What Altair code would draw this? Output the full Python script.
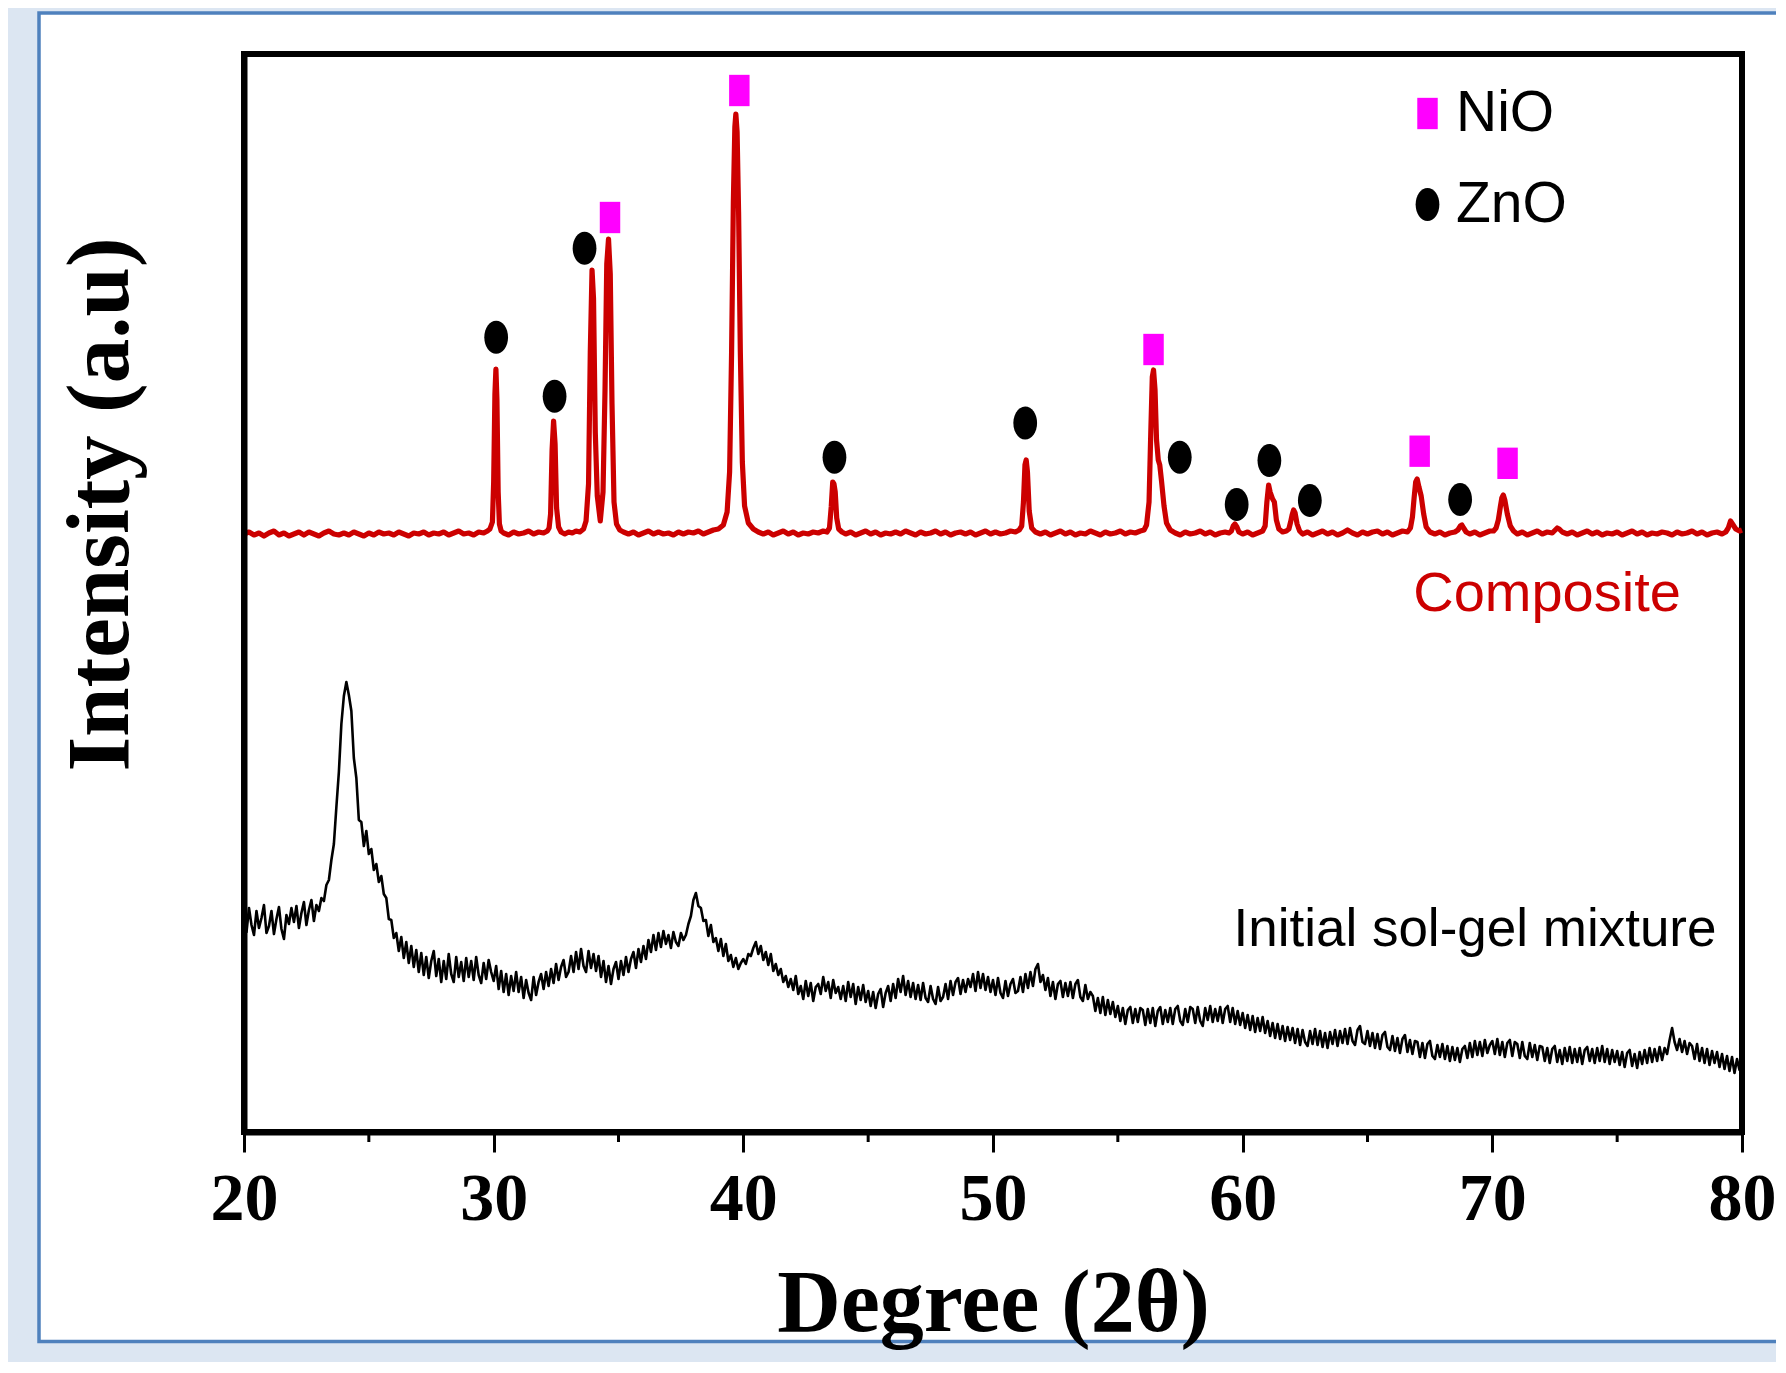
import altair as alt
import pandas as pd

# ---------------- data ----------------
# Composite (red) XRD pattern: (2theta, intensity a.u.)
composite = [
    (20.0, 598), (20.2, 600), (20.4, 597), (20.6, 599), (20.8, 596), (21.0, 599), (21.2, 601), (21.4, 597), (21.6, 599), (21.8, 596),
    (22.0, 598), (22.2, 600), (22.4, 597), (22.6, 600), (22.8, 598), (23.0, 596), (23.2, 599), (23.4, 601), (23.6, 598), (23.8, 597),
    (24.0, 599), (24.2, 597), (24.4, 600), (24.6, 598), (24.8, 596), (25.0, 599), (25.2, 597), (25.4, 600), (25.6, 598), (25.8, 599),
    (26.0, 597), (26.2, 600), (26.4, 598), (26.6, 596), (26.8, 599), (27.0, 598), (27.2, 600), (27.4, 597), (27.6, 599), (27.8, 598),
    (28.0, 600), (28.2, 597), (28.4, 599), (28.6, 601), (28.8, 598), (29.0, 599), (29.2, 597), (29.4, 600), (29.6, 599), (29.75, 601),
    (29.85, 603), (29.95, 610), (30.0, 650), (30.05, 738), (30.09, 763), (30.13, 733), (30.18, 640), (30.23, 608), (30.3, 601),
    (30.4, 599), (30.6, 597), (30.8, 600), (31.0, 598), (31.2, 599), (31.4, 601), (31.6, 598), (31.8, 600), (32.0, 599), (32.15, 601),
    (32.22, 604), (32.28, 618), (32.34, 682), (32.40, 711), (32.46, 688), (32.52, 624), (32.6, 605), (32.7, 600),
    (32.85, 598), (33.0, 600), (33.15, 599), (33.3, 601), (33.45, 600), (33.6, 603),
    (33.7, 611), (33.8, 648), (33.87, 780), (33.94, 862), (34.0, 833), (34.07, 700), (34.15, 636), (34.27, 611),
    (34.38, 640), (34.46, 742), (34.53, 868), (34.6, 893), (34.67, 858), (34.74, 728), (34.82, 630), (34.92, 608), (35.05, 602),
    (35.2, 600), (35.4, 598), (35.6, 600), (35.8, 597), (36.0, 599), (36.2, 601), (36.4, 598), (36.6, 600), (36.8, 598), (37.0, 599),
    (37.2, 597), (37.4, 600), (37.6, 598), (37.8, 600), (38.0, 599), (38.2, 601), (38.4, 598), (38.6, 600), (38.8, 602), (39.0, 603),
    (39.2, 607), (39.35, 620), (39.45, 660), (39.53, 780), (39.6, 930), (39.66, 1005), (39.70, 1018), (39.75, 1000), (39.81, 920),
    (39.88, 780), (39.96, 670), (40.05, 626), (40.2, 609), (40.4, 603),
    (40.6, 600), (40.8, 598), (41.0, 600), (41.2, 597), (41.4, 599), (41.6, 601), (41.8, 598), (42.0, 600), (42.2, 597), (42.4, 599),
    (42.6, 598), (42.8, 600), (43.0, 599), (43.2, 601), (43.35, 600),
    (43.45, 604), (43.52, 625), (43.58, 650), (43.63, 648), (43.68, 640), (43.74, 614), (43.82, 603), (43.95, 600),
    (44.1, 598), (44.3, 600), (44.5, 597), (44.7, 599), (44.9, 601), (45.1, 598), (45.3, 600), (45.5, 597), (45.7, 599), (45.9, 598),
    (46.1, 600), (46.3, 598), (46.5, 601), (46.7, 599), (46.9, 597), (47.1, 600), (47.3, 598), (47.5, 599), (47.7, 601), (47.9, 598),
    (48.1, 600), (48.3, 597), (48.5, 599), (48.7, 600), (48.9, 598), (49.1, 600), (49.3, 597), (49.5, 599), (49.7, 601), (49.9, 598),
    (50.1, 600), (50.3, 598), (50.5, 599), (50.7, 601), (50.9, 600), (51.05, 602),
    (51.15, 606), (51.22, 630), (51.28, 667), (51.33, 672), (51.38, 660), (51.45, 621), (51.55, 604), (51.7, 600),
    (51.9, 598), (52.1, 600), (52.3, 597), (52.5, 599), (52.7, 601), (52.9, 598), (53.1, 600), (53.3, 597), (53.5, 599), (53.7, 598),
    (53.9, 601), (54.1, 599), (54.3, 597), (54.5, 600), (54.7, 598), (54.9, 599), (55.1, 601), (55.3, 598), (55.5, 600), (55.7, 599),
    (55.9, 601), (56.05, 602),
    (56.15, 607), (56.25, 630), (56.32, 700), (56.38, 755), (56.43, 762), (56.49, 742), (56.55, 692), (56.62, 672), (56.68, 667),
    (56.75, 651), (56.85, 626), (56.95, 609), (57.1, 602),
    (57.3, 599), (57.5, 597), (57.7, 600), (57.9, 598), (58.1, 599), (58.3, 601), (58.5, 598), (58.7, 600), (58.9, 597), (59.1, 599),
    (59.3, 600), (59.45, 599),
    (59.55, 601), (59.62, 606), (59.69, 608), (59.77, 605), (59.85, 600),
    (60.0, 598), (60.2, 600), (60.4, 597), (60.6, 599), (60.8, 601),
    (60.9, 606), (60.97, 630), (61.04, 647), (61.1, 640), (61.2, 633), (61.27, 630), (61.35, 612), (61.45, 603), (61.6, 600), (61.75, 601),
    (61.85, 603), (61.92, 610), (61.98, 617), (62.04, 622), (62.1, 619), (62.18, 608), (62.28, 601),
    (62.4, 598), (62.6, 600), (62.8, 597), (63.0, 599), (63.2, 601), (63.4, 598), (63.6, 600), (63.8, 597), (64.0, 599), (64.2, 602),
    (64.4, 599), (64.6, 597), (64.8, 600), (65.0, 598), (65.2, 600), (65.4, 601), (65.6, 598), (65.8, 600), (66.0, 597), (66.2, 599),
    (66.4, 601), (66.6, 600),
    (66.72, 604), (66.8, 615), (66.87, 635), (66.93, 650), (66.99, 653), (67.06, 645), (67.15, 636), (67.25, 618), (67.35, 605), (67.5, 600),
    (67.7, 598), (67.9, 600), (68.1, 597), (68.3, 599), (68.5, 600),
    (68.62, 602), (68.72, 606), (68.78, 607), (68.85, 604), (68.95, 600),
    (69.1, 598), (69.3, 600), (69.5, 597), (69.7, 599), (69.9, 601), (70.05, 601),
    (70.15, 604), (70.24, 612), (70.32, 625), (70.38, 634), (70.44, 637), (70.5, 632), (70.6, 618), (70.72, 606), (70.85, 601),
    (71.0, 598), (71.2, 600), (71.4, 597), (71.6, 599), (71.8, 601), (72.0, 598), (72.2, 600), (72.4, 599),
    (72.52, 602), (72.6, 604), (72.68, 603), (72.8, 600),
    (73.0, 598), (73.2, 600), (73.4, 597), (73.6, 599), (73.8, 601), (74.0, 598), (74.2, 600), (74.4, 597), (74.6, 599), (74.8, 598),
    (75.0, 600), (75.2, 597), (75.4, 599), (75.6, 601), (75.8, 598), (76.0, 600), (76.2, 597), (76.4, 599), (76.6, 598), (76.8, 600),
    (77.0, 599), (77.2, 597), (77.4, 600), (77.6, 598), (77.8, 599), (78.0, 601), (78.2, 598), (78.4, 600), (78.6, 597), (78.8, 599),
    (79.0, 600), (79.2, 598), (79.35, 600),
    (79.45, 604), (79.54, 611), (79.62, 608), (79.75, 603), (79.9, 601), (80.0, 602),
]

# Initial sol-gel mixture (black) pattern, sampled every 0.1 deg from 20.0 to 80.0
sol_gel_intensity = [
    216, 200, 224, 207, 197, 221, 204, 214, 227, 199,   # 20
    206, 221, 198, 213, 225, 203, 193, 217, 208, 224,   # 21
    210, 226, 204, 219, 230, 207, 222, 232, 211, 227,   # 22
    221, 234, 231, 247, 252, 272, 288, 325, 360, 408,   # 23
    436, 450, 437, 421, 374, 354, 312, 310, 286, 301,   # 24
    278, 283, 262, 268, 250, 256, 238, 234, 213, 212,   # 25
    194, 199, 181, 195, 174, 190, 169, 186, 165, 182,   # 26
    160, 179, 157, 175, 154, 171, 181, 156, 173, 150,   # 27
    171, 153, 178, 158, 150, 175, 155, 170, 151, 174,   # 28
    155, 171, 152, 175, 157, 149, 169, 153, 172, 160,   # 29
    151, 166, 143, 161, 140, 158, 137, 156, 141, 160,   # 30
    140, 155, 134, 152, 139, 132, 155, 137, 150, 158,   # 31
    143, 160, 146, 163, 149, 168, 152, 165, 172, 155,   # 32
    160, 176, 160, 180, 163, 183, 166, 160, 181, 164,   # 33
    178, 161, 176, 155, 171, 150, 166, 148, 163, 170,   # 34
    153, 171, 157, 175, 160, 173, 180, 164, 183, 170,   # 35
    186, 173, 192, 180, 197, 182, 199, 185, 201, 188,   # 36
    197, 184, 200, 190, 186, 199, 192, 197, 208, 216,   # 37
    232, 239, 226, 224, 211, 212, 196, 207, 190, 194,   # 38
    181, 193, 176, 188, 171, 177, 165, 174, 163, 169,   # 39
    173, 168, 178, 176, 184, 190, 178, 186, 172, 180,   # 40
    167, 178, 161, 168, 157, 163, 150, 156, 145, 153,   # 41
    142, 156, 138, 146, 133, 151, 136, 149, 131, 145,   # 42
    148, 138, 155, 141, 150, 134, 152, 139, 145, 133,   # 43
    146, 131, 150, 135, 148, 128, 145, 132, 147, 130,   # 44
    141, 126, 140, 124, 138, 143, 125, 139, 146, 131,   # 45
    148, 134, 153, 140, 156, 137, 151, 135, 149, 133,   # 46
    147, 132, 149, 134, 130, 146, 133, 128, 145, 131,   # 47
    135, 148, 133, 151, 137, 150, 154, 138, 152, 140,   # 48
    153, 145, 158, 141, 160, 144, 158, 142, 155, 140,   # 49
    152, 137, 154, 139, 134, 151, 136, 148, 153, 139,   # 50
    141, 155, 140, 158, 144, 160, 146, 163, 168, 150,   # 51
    157, 142, 154, 136, 150, 133, 148, 151, 135, 149,   # 52
    136, 150, 134, 148, 152, 135, 131, 147, 133, 140,   # 53
    136, 121, 134, 119, 135, 117, 132, 118, 130, 115,   # 54
    126, 111, 124, 108, 122, 125, 109, 123, 110, 124,   # 55
    122, 107, 123, 109, 124, 106, 121, 125, 108, 122,   # 56
    110, 124, 108, 123, 126, 111, 107, 123, 110, 125,   # 57
    123, 109, 125, 111, 106, 124, 112, 126, 110, 123,   # 58
    111, 125, 109, 123, 126, 110, 124, 108, 121, 107,   # 59
    119, 104, 117, 102, 116, 100, 114, 101, 115, 99,    # 60
    111, 96, 109, 94, 108, 93, 106, 91, 105, 92,        # 61
    104, 89, 103, 87, 102, 90, 86, 101, 88, 103,        # 62
    87, 101, 85, 99, 84, 100, 88, 102, 86, 101,         # 63
    89, 103, 88, 104, 91, 87, 102, 106, 90, 88,         # 64
    101, 86, 99, 84, 98, 83, 97, 100, 85, 82,           # 65
    96, 81, 94, 79, 93, 97, 80, 92, 78, 91,             # 66
    90, 75, 89, 74, 88, 91, 76, 73, 87, 75,             # 67
    88, 73, 86, 71, 85, 72, 84, 70, 83, 86,             # 68
    74, 89, 75, 91, 77, 90, 76, 92, 79, 87,             # 69
    91, 78, 93, 77, 90, 75, 89, 92, 76, 90,             # 70
    88, 74, 90, 76, 73, 89, 75, 87, 72, 86,             # 71
    85, 71, 84, 69, 83, 86, 70, 82, 68, 84,             # 72
    71, 85, 69, 83, 70, 84, 68, 82, 85, 71,             # 73
    83, 69, 84, 71, 86, 70, 83, 68, 82, 70,             # 74
    81, 67, 80, 65, 79, 82, 66, 78, 64, 80,             # 75
    68, 82, 69, 84, 70, 83, 71, 85, 72, 84,             # 76
    78, 92, 104, 90, 82, 93, 80, 91, 78, 89,            # 77
    86, 73, 88, 71, 84, 69, 83, 67, 81, 69,             # 78
    80, 65, 78, 63, 76, 61, 75, 59, 73, 62,             # 79
    68,                                                 # 80.0
]

# Phase markers
nio_2theta = [34.66, 39.84, 56.43, 67.09, 70.61]
nio_intensity = [914.5, 1041.5, 782.5, 680.8, 668.7]
zno_2theta = [30.10, 32.44, 33.64, 43.65, 51.29, 57.48, 59.76, 61.07, 62.69, 68.71]
zno_intensity = [794.8, 735.8, 883.8, 674.8, 708.9, 674.8, 627.5, 671.5, 631.5, 632.5]

# Axis ticks
major_ticks = [20, 30, 40, 50, 60, 70, 80]
minor_ticks = [25, 35, 45, 55, 65, 75]

# Curve labels
label_texts = ["Composite", "Initial sol-gel mixture"]
label_2theta = [66.83, 59.63]
label_intensity = [521.5, 186.5]

# ---------------- frames ----------------
comp_df = pd.DataFrame(composite, columns=["two_theta", "intensity"])
sol_df = pd.DataFrame({
    "two_theta": [round(20 + 0.1 * i, 1) for i in range(len(sol_gel_intensity))],
    "intensity": sol_gel_intensity,
})
marker_df = pd.DataFrame({
    "two_theta": nio_2theta + zno_2theta,
    "intensity": nio_intensity + zno_intensity,
    "phase": ["NiO"] * len(nio_2theta) + ["ZnO"] * len(zno_2theta),
})
minor_df = pd.DataFrame({"two_theta": minor_ticks})
comp_label_df = pd.DataFrame({"two_theta": [label_2theta[0]], "intensity": [label_intensity[0]], "text": [label_texts[0]]})
sol_label_df = pd.DataFrame({"two_theta": [label_2theta[1]], "intensity": [label_intensity[1]], "text": [label_texts[1]]})

W, H = 1498, 1078
SERIF = "Liberation Serif"
SANS = "Liberation Sans"

x_scale = alt.Scale(domain=[20, 80], nice=False, zero=False)
y_scale = alt.Scale(domain=[0, H], nice=False, zero=False)

x_axis = alt.Axis(
    values=major_ticks, format="d", grid=False,
    labelFont=SERIF, labelFontWeight="bold", labelFontSize=68, labelColor="black",
    labelPadding=13, labelFlush=False, labelOverlap=False,
    tickSize=20, tickWidth=3, tickColor="black",
    domainColor="black", domainWidth=6,
    title="Degree (2θ)", titleFont=SERIF, titleFontWeight="bold", titleFontSize=88,
    titleColor="black", titleBaseline="alphabetic", titleY=198, titleX=W / 2,
    zindex=1,
)
y_axis = alt.Axis(
    ticks=False, labels=False, grid=False,
    domainColor="black", domainWidth=6,
    title="Intensity (a.u)", titleFont=SERIF, titleFontWeight="bold", titleFontSize=89,
    titleColor="black", titleAngle=270, titleAlign="center", titleBaseline="alphabetic",
    titleX=-117, titleY=450,
    zindex=1,
)

X = alt.X("two_theta:Q", scale=x_scale, axis=x_axis)
Y = alt.Y("intensity:Q", scale=y_scale, axis=y_axis)

dummy = alt.Data(values=[{"a": 1}])

# outer white panel with blue border
panel = alt.Chart(dummy).mark_rect(fill="white", stroke="#4f81bd", strokeWidth=3.5).encode(
    x=alt.value(-205), x2=alt.value(1560), y=alt.value(-41), y2=alt.value(1287.5)
)
# plot frame
frame = alt.Chart(dummy).mark_rect(fillOpacity=0, stroke="black", strokeWidth=6).encode(
    x=alt.value(0), x2=alt.value(W), y=alt.value(0), y2=alt.value(H)
)

sol_line = alt.Chart(sol_df).mark_line(color="black", strokeWidth=2.6, strokeJoin="round").encode(
    x=X, y=Y, order="two_theta:Q"
)
comp_line = alt.Chart(comp_df).mark_line(color="#cc0000", strokeWidth=5.2, strokeJoin="round").encode(
    x=X, y=Y, order="two_theta:Q"
)

square_path = "M-0.62,-0.95L0.62,-0.95L0.62,0.95L-0.62,0.95Z"
ellipse_path = "M0,-1A0.72,1,0,1,1,0,1A0.72,1,0,1,1,0,-1Z"

legend = alt.Legend(
    title=None, orient="none", legendX=1155, legendY=31, padding=0,
    symbolSize=1089, symbolStrokeWidth=0, symbolOpacity=1,
    labelFont=SANS, labelFontSize=57, labelColor="black", labelOffset=0,
    rowPadding=33,
)
markers = alt.Chart(marker_df).mark_point(filled=True, opacity=1, size=1089, strokeWidth=0).encode(
    x=X, y=Y,
    color=alt.Color("phase:N", scale=alt.Scale(domain=["NiO", "ZnO"], range=["#ff00ff", "#000000"]), legend=legend),
    shape=alt.Shape("phase:N", scale=alt.Scale(domain=["NiO", "ZnO"], range=[square_path, ellipse_path]), legend=legend),
)

minor = alt.Chart(minor_df).mark_rule(color="black", strokeWidth=3).encode(
    x=alt.X("two_theta:Q", scale=x_scale), y=alt.value(H), y2=alt.value(H + 10)
)

comp_text = alt.Chart(comp_label_df).mark_text(
    align="left", baseline="alphabetic", font=SANS, fontSize=56, color="#cc0000"
).encode(x=X, y=Y, text="text:N")
sol_text = alt.Chart(sol_label_df).mark_text(
    align="left", baseline="alphabetic", font=SANS, fontSize=53, color="black"
).encode(x=X, y=Y, text="text:N")

chart = alt.layer(
    panel, frame, sol_line, comp_line, markers, minor, comp_text, sol_text
).properties(
    width=W, height=H,
    autosize=alt.AutoSizeParams(type="none"),
    padding={"left": 236, "top": 46, "right": 34, "bottom": 230},
).configure(
    background="#dce6f2"
).configure_view(
    stroke="transparent"
)

chart.save("out.html", embed_options={"renderer": "svg", "actions": False})
